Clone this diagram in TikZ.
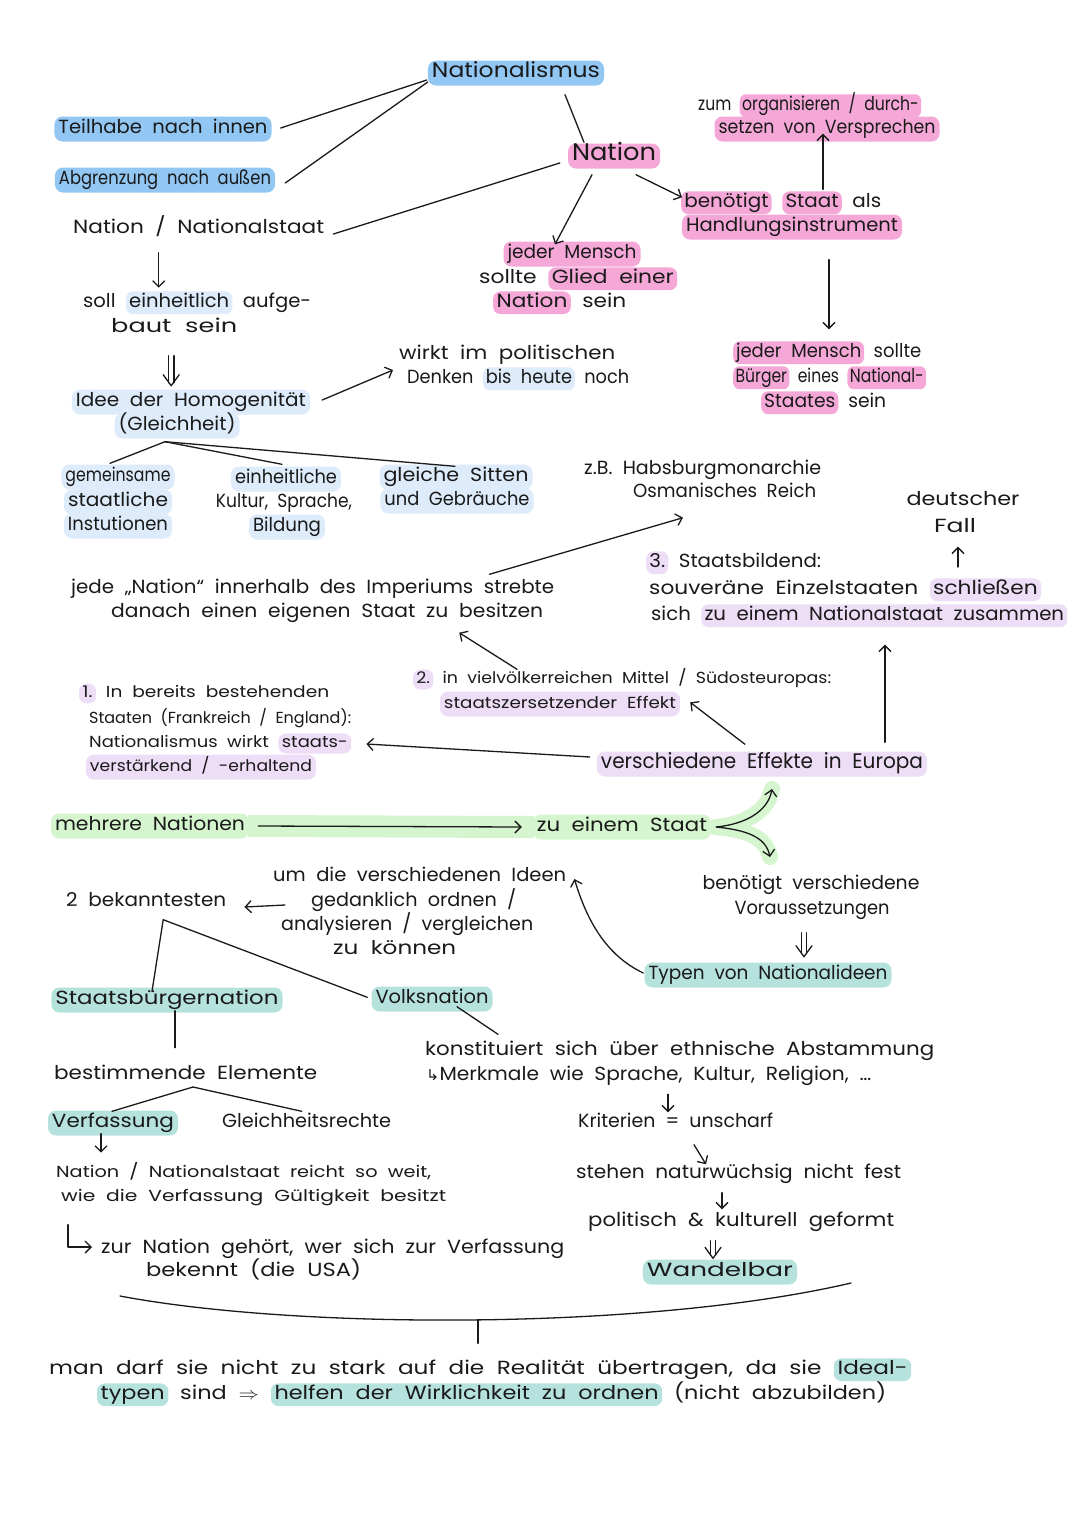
\documentclass[tikz,border=0pt]{standalone}
\usepackage{fontspec}
\usepackage{graphicx}
\setmainfont{Poppins}[WordSpace=2]
\newfontfamily\dejavu{DejaVu Sans}
\usetikzlibrary{arrows.meta,calc}
\definecolor{hblue}{HTML}{92C7F4}
\definecolor{lblue}{HTML}{DDEBFA}
\definecolor{hpink}{HTML}{F5A8D8}
\definecolor{lav}{HTML}{EEDDF6}
\definecolor{hgreen}{HTML}{D4F5CE}
\definecolor{teal}{HTML}{B6E2DE}
\definecolor{ink}{HTML}{1A1A1A}
\newcommand\hsz{\fontsize{19}{23}\selectfont}
\newcommand\hsm{\fontsize{16}{20}\selectfont}
\newcommand\hmd{\fontsize{21}{25}\selectfont}
\newcommand\hlg{\fontsize{24}{28}\selectfont}
\newcommand\W[2]{\resizebox{#1pt}{\height}{#2}}
\newcommand\hl[2]{\tikz[baseline=(hlx.base)]\node[fill=#1,rounded corners=7pt,inner xsep=3pt,inner ysep=2.5pt,text height=0.72em,text depth=0.22em](hlx){#2};}
\tikzset{
  tx/.style={font=\hsz, text=ink, inner sep=1pt, text height=14pt, text depth=5pt},
  L/.style={tx, anchor=west},
  bx/.style={tx, fill=#1, rounded corners=8pt, inner xsep=4pt, inner ysep=3pt},
  ln/.style={draw=ink, line width=1.3pt, line cap=round, line join=round},
  ar/.style={ln, -{Straight Barb[length=6pt,width=12pt]}},
}
% vertical double arrow from coordinate #1 down to tip coordinate #2
\newcommand\dblarrow[2]{%
  \draw[ln] ($(#1)+(-2.7,0)$) -- ($(#2)+(-2.7,-3)$);
  \draw[ln] ($(#1)+(2.7,0)$) -- ($(#2)+(2.7,-3)$);
  \draw[ln] ($(#2)+(-8,-11)$) -- (#2) -- ($(#2)+(8,-11)$);}
\begin{document}
\begin{tikzpicture}[x=1pt,y=-1pt]
\fill[white] (0,0) rectangle (1080,1527);
\useasboundingbox (0,0) rectangle (1080,1527);

% ---------- top ----------
\node[bx=hblue, font=\hmd] (nat) at (516,73) {\W{168}{Nationalismus}};
\node[bx=hblue] (teil) at (163,129) {\W{209}{Teilhabe nach innen}};
\node[bx=hblue] (abgr) at (165,180) {\W{212}{Abgrenzung nach außen}};
\node[L] (nns) at (72,229) {\W{251}{Nation / Nationalstaat}};
\node[bx=hpink, font=\hlg] (nation) at (614,156) {\W{84}{Nation}};
\node[L] (zum1) at (697,106) {\W{223}{zum \hl{hpink}{organisieren / durch-}}};
\node[bx=hpink] (zum2) at (827,129) {\W{217}{setzen von Versprechen}};
\node[L] (ben1) at (680,203) {\W{200}{\hl{hpink}{benötigt} \hl{hpink}{Staat} als}};
\node[bx=hpink] (ben2) at (792,227) {\W{212}{Handlungsinstrument}};
\node[L] (jm1) at (732,353) {\W{188}{\hl{hpink}{jeder Mensch} sollte}};
\node[L] (jm2) at (732,378) {\W{193}{\hl{hpink}{Bürger} eines \hl{hpink}{National-}}};
\node[L] (jm3) at (760,403) {\W{125}{\hl{hpink}{Staates} sein}};
\node[bx=hpink] (gl1) at (572,254) {\W{129}{jeder Mensch}};
\node[L] (gl2) at (478,279) {\W{198}{sollte \hl{hpink}{Glied einer}}};
\node[L] (gl3) at (492,303) {\W{133}{\hl{hpink}{Nation} sein}};

\draw[ln] ($(teil.east)+(9,-1)$) -- ($(nat.west)+(-1,7)$);
\draw[ln] ($(abgr.east)+(10,3)$) -- ($(nat.west)+(0,9)$);
\draw[ln] ($(nns.east)+(8,5)$) -- ($(nation.west)+(-8,7)$);
\draw[ln] ($(nat.south)+(49,9)$) -- ($(nation.north)+(-30,-1)$);
\draw[ar] ($(nation.south)+(-22,6)$) -- ($(gl1.north)+(-17,3)$);
\draw[ar] ($(nation.south)+(22,6)$) -- ($(ben1.north west)+(2,5)$);
\draw[ar] ($(zum2.south |- ben1.north)+(-4,-3)$) -- ($(zum2.south)+(-4,-8)$);
\draw[ar] ($(ben2.south)+(37,20)$) -- ($(ben2.south |- jm1.north)+(37,-13)$);

% ---------- left column ----------
\node[L] (soll1) at (82,303) {\W{228}{soll \hl{lblue}{einheitlich} aufge-}};
\node[L] (soll2) at (110,328) {\W{126}{baut sein}};
\node[bx=lblue] (idee) at (191,402) {\W{230}{Idee der Homogenität}};
\node[bx=lblue] (gleich) at (177,426) {\W{117}{(Gleichheit)}};
\node[L] (wirkt1) at (398,355) {\W{216}{wirkt im politischen}};
\node[L] (wirkt2) at (406,379) {\W{222}{Denken \hl{lblue}{bis heute} noch}};
\node[bx=lblue] (gem1) at (118,477) {\W{105}{gemeinsame}};
\node[bx=lblue] (gem2) at (118,502) {\W{100}{staatliche}};
\node[bx=lblue] (gem3) at (118,526) {\W{100}{Instutionen}};
\node[bx=lblue] (ein1) at (286,479) {\W{102}{einheitliche}};
\node[tx] (ein2) at (284,503) {\W{136}{Kultur, Sprache,}};
\node[bx=lblue] (ein3) at (287,527) {\W{68}{Bildung}};
\node[bx=lblue] (sit1) at (456,477) {\W{145}{gleiche Sitten}};
\node[bx=lblue] (sit2) at (457,501) {\W{145}{und Gebräuche}};

\draw[ar] ($(nns.south)+(-40,13)$) -- ($(nns.south)+(-40,48)$);
\coordinate (d1s) at ($(soll2.south)+(-3,17)$);
\coordinate (d1e) at ($(soll2.south)+(-3,47)$);
\dblarrow{d1s}{d1e}
\draw[ar] ($(idee.east)+(12,-2)$) -- ($(wirkt2.west)+(-13,-9)$);
\coordinate (gs) at ($(gleich.south)+(-12,3)$);
\draw[ln] (gs) -- ($(gem1.north)+(-8,-1)$);
\draw[ln] (gs) -- ($(ein1.north)+(-4,-2)$);
\draw[ln] (gs) -- ($(sit1.north)+(-1,2)$);

% ---------- middle ----------
\node[L] (zb1) at (583,470) {\W{237}{z.B. Habsburgmonarchie}};
\node[L] (zb2) at (632,493) {\W{183}{Osmanisches Reich}};
\node[L] (jede1) at (70,589) {\W{483}{jede „Nation“ innerhalb des Imperiums strebte}};
\node[L] (jede2) at (110,613) {\W{432}{danach einen eigenen Staat zu besitzen}};
\node[L] (st1) at (645,563) {\W{175}{\hl{lav}{3.} Staatsbildend:}};
\node[L] (st2) at (648,590) {\W{392}{souveräne Einzelstaaten \hl{lav}{schließen}}};
\node[L] (st3) at (650,616) {\W{416}{sich \hl{lav}{zu einem Nationalstaat zusammen}}};
\node[tx] (dt1) at (963,501) {\W{113}{deutscher}};
\node[tx] (dt2) at (955,528) {\W{42}{Fall}};
\node[L, font=\hsm] (zw1) at (412,679) {\W{418}{\hl{lav}{2.} in vielvölkerreichen Mittel / Südosteuropas:}};
\node[bx=lav, font=\hsm] (zw2) at (560,704) {\W{232}{staatszersetzender Effekt}};
\node[L, font=\hsm] (ei1) at (78,693) {\W{250}{\hl{lav}{1.} In bereits bestehenden}};
\node[L, font=\hsm] (ei2) at (88,719) {\W{262}{Staaten (Frankreich / England):}};
\node[L, font=\hsm] (ei3) at (88,743) {\W{262}{Nationalismus wirkt \hl{lav}{staats-}}};
\node[bx=lav, font=\hsm] (ei4) at (201,767) {\W{222}{verstärkend / -erhaltend}};
\node[bx=lav, font=\hmd] (eff) at (762,764) {\W{322}{verschiedene Effekte in Europa}};

\draw[ar] ($(jede1.north east)+(-66,-4)$) -- ($(zb2.south west)+(51,14)$);
\draw[ar] ($(zw1.north west)+(105,1)$) -- ($(jede2.south)+(132,9)$);
\draw[ar] ($(eff.north)+(-17,-7)$) -- ($(zw2.north east)+(10,11)$);
\draw[ar] ($(eff.west)+(-7,-7)$) -- ($(ei3.east)+(14,1)$);
\draw[ar] ($(eff.north)+(123,-9)$) -- ($(eff.north |- st3.south)+(123,18)$);
\draw[ar] ($(dt2.south |- st1.center)+(3,4)$) -- ($(dt2.south)+(3,8)$);

% ---------- green row ----------
\coordinate (fu) at (772,789);
\coordinate (fd) at (770,857);
\coordinate (zuE) at (716,827);
\draw[hgreen, line width=16pt, line cap=round] (zuE) .. controls +(30,-3) and +(-4,22) .. (fu);
\draw[hgreen, line width=16pt, line cap=round] (zuE) .. controls +(30,3) and +(-4,-20) .. (fd);
\node[bx=hgreen] (mehr) at (150,826) {\W{190}{mehrere Nationen}};
\node[bx=hgreen] (zu) at (622,827) {\W{170}{zu einem Staat}};
\draw[hgreen, line width=22pt] ($(mehr.east)+(-1,0)$) -- ($(zu.west)+(1,0)$);
\draw[ar] ($(mehr.east)+(9,0)$) -- ($(zu.west)+(-11,0)$);
\draw[ar] ($(zu.east)+(5,0)$) .. controls +(30,-3) and +(-4,22) .. (fu);
\draw[ar] ($(zu.east)+(5,0)$) .. controls +(30,3) and +(-4,-20) .. (fd);

% ---------- types ----------
\node[tx] (vor1) at (811,885) {\W{217}{benötigt verschiedene}};
\node[tx] (vor2) at (812,910) {\W{155}{Voraussetzungen}};
\node[bx=teal] (typ) at (768,975) {\W{239}{Typen von Nationalideen}};
\node[L] (um1) at (272,877) {\W{293}{um die verschiedenen Ideen}};
\node[L] (um2) at (310,902) {\W{205}{gedanklich ordnen /}};
\node[L] (um3) at (280,926) {\W{252}{analysieren / vergleichen}};
\node[L] (um4) at (332,950) {\W{123}{zu können}};
\node[L] (bek) at (65,902) {\W{160}{2 bekanntesten}};
\node[bx=teal] (sbn) at (167,1000) {\W{223}{Staatsbürgernation}};
\node[bx=teal] (vn) at (432,999) {\W{113}{Volksnation}};

\coordinate (d2s) at ($(vor2.south)+(-8,12)$);
\coordinate (d2e) at ($(vor2.south)+(-8,36)$);
\dblarrow{d2s}{d2e}
\draw[ar] ($(typ.west)+(-1,-2)$) .. controls +(-38,-18) and +(12,40) .. ($(um1.east)+(7,2)$);
\draw[ar] ($(um2.west)+(-25,3)$) -- ($(bek.east)+(17,5)$);
\coordinate (bs) at ($(bek.south)+(17,7)$);
\draw[ln] (bs) -- ($(sbn.north)+(-15,4)$);
\draw[ln] (bs) -- ($(vn.north west)+(-4,11)$);

% ---------- Staatsbuergernation branch ----------
\node[L] (best) at (53,1075) {\W{263}{bestimmende Elemente}};
\node[bx=teal] (verf) at (113,1123) {\W{122}{Verfassung}};
\node[L] (glr) at (221,1123) {\W{169}{Gleichheitsrechte}};
\node[L, font=\hsm] (nv1) at (55,1173) {\W{375}{Nation / Nationalstaat reicht so weit,}};
\node[L, font=\hsm] (nv2) at (60,1197) {\W{385}{wie die Verfassung Gültigkeit besitzt}};
\node[L] (zur1) at (100,1249) {\W{463}{zur Nation gehört, wer sich zur Verfassung}};
\node[L] (zur2) at (145,1272) {\W{215}{bekennt (die USA)}};

\draw[ln] ($(sbn.south)+(8,-2)$) -- ($(sbn.south)+(8,35)$);
\coordinate (es) at (193,1087);
\draw[ln] (es) -- ($(verf.north)+(-1,1)$);
\draw[ln] (es) -- ($(glr.north)+(-5,-1)$);
\draw[ar] ($(verf.south)+(-12,-2)$) -- ($(verf.south)+(-12,17)$);
\draw[ar] ($(nv2.south west)+(8,17)$) |- ($(zur1.west)+(-8,-2)$);

% ---------- Volksnation branch ----------
\node[L] (kon1) at (424,1051) {\W{509}{konstituiert sich über ethnische Abstammung}};
\node[L] (kon2) at (425,1076) {\W{445}{{\dejavu\fontsize{15}{18}\selectfont ↳}Merkmale wie Sprache, Kultur, Religion, …}};
\node[L] (kri) at (577,1123) {\W{195}{Kriterien = unscharf}};
\node[L] (steh) at (575,1174) {\W{325}{stehen naturwüchsig nicht fest}};
\node[L] (pol) at (587,1222) {\W{306}{politisch \& kulturell geformt}};
\node[bx=teal] (wan) at (720,1272) {\W{146}{Wandelbar}};

\draw[ln] ($(vn.south)+(25,-5)$) -- ($(kon1.north west)+(74,-6)$);
\draw[ar] ($(kri.north west)+(91,-18)$) -- ($(kri.north west)+(91,0)$);
\draw[ar] ($(kri.south west)+(117,11)$) -- ($(steh.north west)+(131,1)$);
\draw[ar] ($(steh.south west)+(147,8)$) -- ($(pol.north west)+(135,-2)$);
\coordinate (d3s) at ($(pol.south west)+(126,8)$);
\coordinate (d3e) at ($(wan.north)+(-7,-1)$);
\dblarrow{d3s}{d3e}

% ---------- conclusion ----------
\node[L] (man1) at (48,1370) {\W{862}{man darf sie nicht zu stark auf die Realität übertragen, da sie \hl{teal}{Ideal-}}};
\node[L] (man2) at (96,1395) {\W{789}{\hl{teal}{typen} sind $\Rightarrow$ \hl{teal}{helfen der Wirklichkeit zu ordnen} (nicht abzubilden)}};
\coordinate (brL) at (120,1296);
\coordinate (brR) at (851,1283);
\coordinate (brM) at (478,1320);
\draw[ln] (brL) .. controls (300,1330) and (650,1330) .. (brR);
\draw[ln] (brM) -- ($(brM |- man1.north)+(0,-16)$);
\end{tikzpicture}
\end{document}
